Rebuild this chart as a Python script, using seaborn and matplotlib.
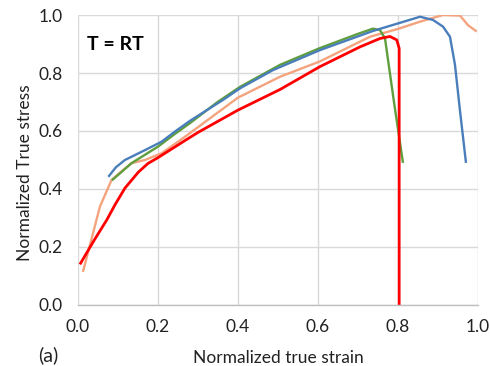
import matplotlib
matplotlib.use("Agg")
import matplotlib.pyplot as plt
import seaborn as sns
import pandas as pd

# ---- data ----
red_x = [0.005, 0.04, 0.072, 0.0925, 0.1175, 0.151, 0.175, 0.2, 0.2675, 0.3, 0.4, 0.505, 0.605, 0.705, 0.755, 0.78, 0.797, 0.803, 0.803]
red_y = [0.14, 0.222, 0.293, 0.345, 0.403, 0.458, 0.488, 0.508, 0.567, 0.595, 0.672, 0.743, 0.822, 0.89, 0.919, 0.926, 0.914, 0.885, 0.0]

green_x = [0.085, 0.11, 0.134, 0.2, 0.2425, 0.28, 0.347, 0.405, 0.505, 0.605, 0.7, 0.7375, 0.755, 0.7675, 0.79, 0.8125]
green_y = [0.43, 0.46, 0.489, 0.546, 0.59, 0.627, 0.698, 0.752, 0.828, 0.886, 0.935, 0.953, 0.948, 0.92, 0.70, 0.49]

blue_x = [0.076, 0.095, 0.1175, 0.1675, 0.209, 0.2425, 0.28, 0.3625, 0.405, 0.4875, 0.605, 0.7375, 0.8, 0.855, 0.8875, 0.9125, 0.93, 0.9425, 0.955, 0.97]
blue_y = [0.442, 0.475, 0.5, 0.534, 0.563, 0.598, 0.635, 0.707, 0.747, 0.81, 0.879, 0.945, 0.971, 0.994, 0.983, 0.96, 0.925, 0.828, 0.67, 0.49]

orange_x = [0.0125, 0.035, 0.055, 0.084, 0.11, 0.134, 0.1675, 0.209, 0.2675, 0.4, 0.505, 0.605, 0.73, 0.8, 0.855, 0.9125, 0.955, 0.975, 0.9967]
orange_y = [0.114, 0.233, 0.339, 0.431, 0.462, 0.489, 0.5, 0.523, 0.58, 0.715, 0.787, 0.84, 0.925, 0.952, 0.977, 1.0, 0.998, 0.965, 0.943]

x_ticks = [0.0, 0.2, 0.4, 0.6, 0.8, 1.0]
y_ticks = [0.0, 0.2, 0.4, 0.6, 0.8, 1.0]

series = [
    ("orange", orange_x, orange_y, "#f4a37f", 1.7),
    ("green", green_x, green_y, "#5f9e3d", 1.7),
    ("blue", blue_x, blue_y, "#4a7ebb", 1.7),
    ("red", red_x, red_y, "#ff0000", 2.0),
]

sns.set_style("white")
plt.rcParams["font.family"] = ["Lato", "DejaVu Sans"]

fig = plt.figure(figsize=(4.9, 3.66), dpi=100)
ax = fig.add_axes([0.159, 0.1667, 0.8165, 0.7923])

for name, xs, ys, col, lw in series:
    df = pd.DataFrame({"x": xs, "y": ys})
    sns.lineplot(data=df, x="x", y="y", sort=False, estimator=None,
                 color=col, linewidth=lw, ax=ax)
for ln in ax.lines:
    ln.set_solid_joinstyle("round")
    ln.set_solid_capstyle("butt")

ax.set_xlim(0, 1.0)
ax.set_ylim(0, 1.0)
ax.set_xticks(x_ticks)
ax.set_yticks(y_ticks)
ax.set_xticklabels([f"{v:.1f}" for v in x_ticks])
ax.set_yticklabels([f"{v:.1f}" for v in y_ticks])
ax.grid(True, color="#d9d9d9", linewidth=1.0)
ax.set_axisbelow(True)
for s in ["top", "right", "left"]:
    ax.spines[s].set_visible(False)
ax.spines["bottom"].set_color("#bfbfbf")
ax.spines["bottom"].set_linewidth(1.0)
ax.tick_params(axis="x", direction="out", length=4, color="#bfbfbf", labelsize=12.5, pad=6,
               labelcolor="#222222")
ax.tick_params(axis="y", length=0, labelsize=12.5, pad=11, labelcolor="#222222")
ax.set_xlabel("Normalized true strain", fontsize=12.5, color="#222222")
ax.set_ylabel("Normalized True stress", fontsize=12.5, color="#222222")
ax.xaxis.set_label_coords(0.5, -0.155)
ax.yaxis.set_label_coords(-0.1125, 0.455)

ax.text(0.0225, 0.9, "T = RT", fontsize=14, fontweight="bold", ha="left", va="center",
        transform=ax.transAxes, color="black")
fig.text(48 / 490, 1 - 355 / 366, "(a)", fontsize=14, ha="center", va="center", color="#222222")

fig.savefig("out.png", dpi=100)
